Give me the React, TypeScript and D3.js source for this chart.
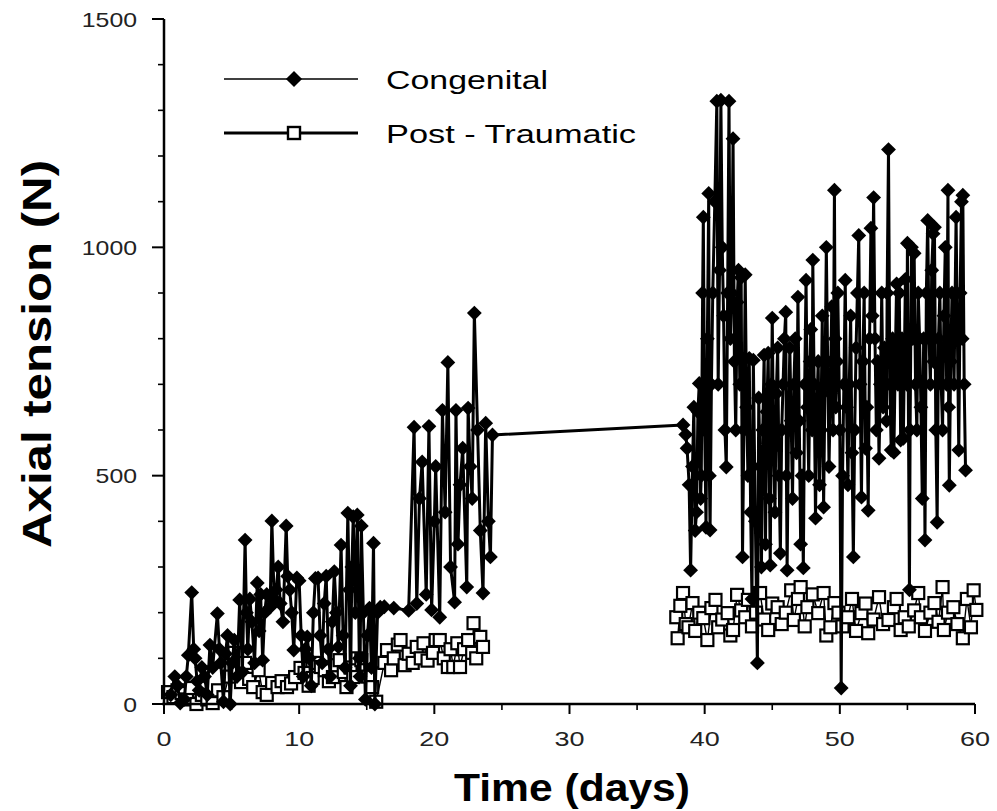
import React from 'react'
import * as d3 from 'd3'

// time in days, axial tension in N
const congenitalDays = [
  0.5, 0.8, 1.0, 1.2, 1.5, 1.65, 1.8, 2.05, 2.2, 2.3, 2.45, 2.6, 2.8, 3.0, 3.2, 3.4, 3.6, 3.95, 4.1, 4.2, 4.4,
  4.55, 4.7, 4.9, 5.05, 5.2, 5.4, 5.6, 5.8, 6.0, 6.1, 6.2, 6.35, 6.5, 6.7, 6.9, 7.04, 7.15, 7.3, 7.45, 7.6,
  7.85, 7.98, 8.15, 8.3, 8.45, 8.6, 8.8, 9.04, 9.15, 9.3, 9.45, 9.6, 9.83, 10.0, 10.15, 10.3, 10.45, 10.6,
  10.75, 10.9, 11.05, 11.2, 11.4, 11.55, 11.7, 11.85, 12.0, 12.15, 12.3, 12.45, 12.6, 12.75, 12.9, 13.1, 13.25,
  13.4, 13.6, 13.7, 13.8, 13.9, 14.0, 14.15, 14.3, 14.45, 14.5, 14.6, 14.75, 14.9, 15.05, 15.2, 15.35, 15.5,
  15.6, 15.8, 16.0, 16.3,
  17.0, 18.1, 18.5, 18.7, 18.9, 19.1, 19.4, 19.6, 19.8, 20.0, 20.1, 20.4, 20.6, 20.8, 21.0, 21.2, 21.5, 21.6,
  21.75, 21.9, 22.1, 22.4, 22.5, 22.65, 22.8, 22.96, 23.2, 23.4, 23.6, 23.8, 24.0, 24.15, 24.3,
  38.4, 38.6, 38.7, 38.85, 38.96, 39.1, 39.2, 39.3, 39.4, 39.5, 39.6, 39.7, 39.75, 39.85, 39.9, 40.0, 40.1,
  40.2, 40.3, 40.35, 40.4, 40.5, 40.6, 40.75, 40.9, 41.0, 41.1, 41.2, 41.3, 41.4, 41.5, 41.6, 41.7, 41.8,
  41.9, 42.0, 42.1, 42.2, 42.3, 42.4, 42.5, 42.6, 42.7, 42.8, 42.9, 43.0, 43.1, 43.2, 43.3, 43.4, 43.5,
  43.6, 43.75, 43.9, 44.0, 44.1, 44.2, 44.3, 44.4, 44.5, 44.6, 44.7, 44.8, 44.85, 44.95, 45.0, 45.1, 45.2,
  45.3, 45.4, 45.5, 45.6, 45.7, 45.8, 45.9, 46.0, 46.05, 46.1, 46.2, 46.3, 46.4, 46.5, 46.6, 46.7, 46.8,
  46.9, 47.0, 47.1, 47.2, 47.3, 47.4, 47.5, 47.6, 47.7, 47.8, 47.85, 47.95, 48.0, 48.1, 48.2, 48.3, 48.4,
  48.5, 48.6, 48.7, 48.8, 48.9, 49.0, 49.1, 49.2, 49.3, 49.4, 49.5, 49.6, 49.65, 49.7, 49.8, 49.85, 50.0,
  50.1, 50.2, 50.3, 50.4, 50.5, 50.6, 50.7, 50.8, 50.9, 51.0, 51.1, 51.2, 51.3, 51.4, 51.5, 51.6, 51.7,
  51.8, 51.9, 52.0, 52.1, 52.2, 52.3, 52.4, 52.5, 52.6, 52.7, 52.8, 52.9, 53.0, 53.1, 53.2, 53.3, 53.45,
  53.5, 53.6, 53.7, 53.8, 53.9, 54.0, 54.1, 54.2, 54.3, 54.4, 54.5, 54.6, 54.7, 54.85, 54.95, 55.0, 55.15,
  55.2, 55.3, 55.4, 55.5, 55.6, 55.7, 55.8, 55.9, 56.0, 56.1, 56.2, 56.3, 56.4, 56.5, 56.6, 56.7, 56.8,
  56.9, 56.95, 57.0, 57.1, 57.2, 57.3, 57.4, 57.5, 57.6, 57.7, 57.8, 57.9, 58.0, 58.05, 58.1, 58.2, 58.3,
  58.45, 58.6, 58.7, 58.8, 58.9, 59.0, 59.05, 59.1, 59.2, 59.3,
]
const congenitalTension = [
  20, 60, 40, 2, 10, 60, 107, 244, 120, 100, 50, 30, 80, 60, 20, 129, 80, 198, 120, 90, 5,
  110, 150, 0, 90, 140, 60, 228, 70, 359, 200, 120, 230, 180, 90, 265, 160, 240, 96, 200, 240,
  212, 401, 230, 250, 300, 220, 180, 390, 280, 250, 200, 118, 276, 270, 150, 60, 120, 147,
  100, 40, 200, 275, 276, 150, 90, 220, 280, 120, 60, 180, 290, 200, 125, 348, 150,
  80, 418, 250, 40, 300, 410, 200, 414, 100, 60, 390, 200, 10, 150, 210, 80, 352,
  0, 200, 212, 213,
  210, 205, 606, 220, 450, 530, 240, 608, 206, 400, 520, 190, 643, 420, 748, 300, 223, 643,
  350, 480, 560, 256, 648, 520, 450, 856, 600, 380, 243, 615, 400, 322, 589,
  611, 590, 560, 480, 293, 520, 650, 380, 420, 640, 702, 450, 500, 900, 1066, 600, 387,
  800, 1118, 500, 381, 700, 900, 1100, 1320, 700, 950, 1322, 1000, 850, 600, 519, 900, 1320,
  800, 900, 1238, 750, 600, 880, 950, 700, 934, 322, 600, 940, 650, 500, 757, 420, 230,
  753, 400, 90, 670, 520, 300, 600, 764, 350, 640, 768, 450, 304, 700, 845, 560, 420,
  680, 780, 500, 330, 600, 700, 800, 858, 500, 293, 600, 780, 620, 450, 700, 800, 550,
  891, 620, 350, 500, 298, 700, 928, 650, 500, 750, 820, 600, 972, 700, 407, 650, 750,
  480, 600, 850, 431, 700, 1000, 750, 520, 680, 870, 600, 1125, 800, 650, 750, 900, 600,
  35, 500, 700, 928, 650, 480, 700, 850, 550, 322, 600, 780, 900, 1026, 700, 453, 750,
  900, 560, 650, 424, 800, 1042, 850, 1109, 800, 600, 750, 538, 700, 900, 650, 780, 620,
  900, 1214, 700, 556, 800, 551, 750, 920, 700, 900, 578, 800, 582, 930, 700, 1009, 250,
  600, 1000, 800, 987, 700, 600, 900, 800, 650, 450, 800, 359, 900, 1059, 800, 700, 950,
  1030, 750, 1044, 600, 398, 800, 900, 700, 600, 850, 1000, 700, 1125, 650, 479, 750, 900,
  700, 1066, 800, 556, 900, 1100, 800, 1114, 700, 512,
]

const postTraumaticDays = [
  0.3, 0.7, 1.0, 1.3, 1.7, 2.0, 2.4, 2.8, 3.2, 3.6, 4.0, 4.4, 4.8, 5.1, 5.4, 5.7, 6.0, 6.3, 6.6, 7.0,
  7.3, 7.6, 8.0, 8.4, 8.7, 9.1, 9.4, 9.7, 10.1, 10.4, 10.7, 11.0, 11.3, 11.6, 11.9, 12.2, 12.5, 12.8, 13.0, 13.3,
  13.5, 13.8, 14.0, 14.3, 14.6, 14.8, 15.1, 15.4, 15.7,
  16.3, 16.5, 16.8, 17.0, 17.3, 17.5, 17.8, 18.1, 18.4, 18.7, 19.0, 19.2, 19.5, 19.9, 20.1, 20.4, 20.7, 21.0,
  21.2, 21.4, 21.7, 21.9, 22.2, 22.5, 22.8, 22.9, 23.1, 23.4, 23.6,
  37.9, 38.0, 38.2, 38.4, 38.6, 38.8, 39.1, 39.3, 39.6, 39.9, 40.2, 40.5, 40.8, 41.0, 41.3, 41.7, 41.9, 42.1,
  42.4, 42.7, 43.0, 43.2, 43.5, 43.8, 44.1, 44.4, 44.7, 45.0, 45.4, 45.7, 46.0, 46.4, 46.6, 46.9, 47.1, 47.4,
  47.6, 48.0, 48.4, 48.8, 49.0, 49.3, 49.6, 49.9, 50.2, 50.6, 50.9, 51.2, 51.6, 51.9, 52.1, 52.5, 52.9, 53.2,
  53.6, 54.0, 54.2, 54.5, 54.8, 55.1, 55.5, 55.8, 56.0, 56.3, 56.7, 57.0, 57.3, 57.6, 57.7, 58.0, 58.4, 58.7,
  59.1, 59.4, 59.7, 59.9, 60.1,
]
const postTraumaticTension = [
  26, 15, 30, 24, 10, 35, 0, 20, 10, 2, 30, 15, 60, 112, 74, 48, 90, 55, 37, 74,
  26, 20, 46, 37, 50, 37, 45, 59, 79, 68, 40, 57, 90, 81, 74, 50, 59, 85, 96, 70,
  37, 80, 59, 100, 96, 74, 60, 37, 5,
  90, 118, 74, 100, 130, 140, 85, 110, 90, 125, 100, 133, 95, 112, 140, 140, 100, 81,
  120, 81, 133, 81, 120, 140, 112, 177, 100, 147, 125,
  190, 144, 215, 243, 175, 168, 221, 160, 200, 188, 140, 210, 228, 168, 185, 199, 150, 162,
  239, 205, 190, 228, 170, 200, 243, 185, 162, 220, 212, 175, 200, 249, 184, 230, 256, 170,
  212, 240, 199, 243, 150, 168, 221, 200, 170, 190, 230, 160, 199, 220, 155, 185, 234, 175,
  184, 212, 230, 162, 190, 170, 205, 243, 190, 160, 200, 221, 180, 256, 162, 200, 212, 175,
  144, 230, 168, 249, 206,
]

const xTicks = [0, 10, 20, 30, 40, 50, 60]
const xMinorTicks = [5, 15, 25, 35, 45, 55]
const yTicks = [0, 500, 1000, 1500]
const yMinorTicks = [100, 200, 300, 400, 600, 700, 800, 900, 1100, 1200, 1300, 1400]

const App = () => {
  const width = 997
  const height = 811
  const font = '"Liberation Sans", Arial, Helvetica, sans-serif'

  const x = d3.scaleLinear().domain([0, 60]).range([164, 975])
  const y = d3.scaleLinear().domain([0, 1500]).range([704, 19])

  const congenital = congenitalDays.map((d, i) => [d, congenitalTension[i]])
  const postTraumatic = postTraumaticDays.map((d, i) => [d, postTraumaticTension[i]])

  const line = d3.line().x((d) => x(d[0])).y((d) => y(d[1]))
  // the post-traumatic record has gaps between the three stays
  const ptLine = d3.line()
    .defined((d, i, arr) => i === 0 || d[0] - arr[i - 1][0] < 5)
    .x((d) => x(d[0])).y((d) => y(d[1]))

  const diamond = d3.symbol(d3.symbolSquare, 110)()
  const legendDiamond = d3.symbol(d3.symbolSquare, 130)()

  return (
    <svg width={width} height={height} style={{ position: 'absolute', left: 0, top: 0, background: '#fff' }}>
      {/* post-traumatic under, congenital on top */}
      <path d={ptLine(postTraumatic)} fill="none" stroke="#000" strokeWidth={1.4} />
      {postTraumatic.map((d, i) => (
        <rect key={'p' + i} x={x(d[0]) - 6} y={y(d[1]) - 6} width={12} height={12}
          fill="#fff" stroke="#000" strokeWidth={2.2} />
      ))}
      <path d={line(congenital)} fill="none" stroke="#000" strokeWidth={3} strokeLinejoin="round" />
      {congenital.map((d, i) => (
        <path key={'c' + i} d={diamond} transform={`translate(${x(d[0])},${y(d[1])}) rotate(45)`} fill="#000" />
      ))}

      {/* axes */}
      <line x1={x(0)} x2={x(0)} y1={y(0)} y2={y(1500)} stroke="#000" strokeWidth={2.5} />
      <line x1={x(0) - 2} x2={x(60)} y1={y(0)} y2={y(0)} stroke="#000" strokeWidth={2.5} />
      {yTicks.map((t) => (
        <g key={'yt' + t}>
          <line x1={x(0) - 12} x2={x(0)} y1={y(t)} y2={y(t)} stroke="#000" strokeWidth={2} />
          <text x={137} y={y(t) + 7.5} textAnchor="end" fontFamily={font} fontSize={21} fill="#222"
            textLength={String(t).length * 13.8} lengthAdjust="spacingAndGlyphs">{t}</text>
        </g>
      ))}
      {yMinorTicks.map((t) => (
        <line key={'ym' + t} x1={x(0) - 6} x2={x(0)} y1={y(t)} y2={y(t)} stroke="#000" strokeWidth={1.6} />
      ))}
      {xTicks.map((t) => (
        <g key={'xt' + t}>
          <line x1={x(t)} x2={x(t)} y1={y(0)} y2={y(0) + 10} stroke="#000" strokeWidth={2} />
          <text x={x(t)} y={746} textAnchor="middle" fontFamily={font} fontSize={21} fill="#222"
            textLength={String(t).length * 15} lengthAdjust="spacingAndGlyphs">{t}</text>
        </g>
      ))}
      {xMinorTicks.map((t) => (
        <line key={'xm' + t} x1={x(t)} x2={x(t)} y1={y(0)} y2={y(0) + 6} stroke="#000" strokeWidth={1.6} />
      ))}

      {/* axis titles */}
      <text transform="translate(51,354) rotate(-90)" textAnchor="middle" fontFamily={font}
        fontWeight="bold" fontSize={41} textLength={388} lengthAdjust="spacingAndGlyphs">Axial tension (N)</text>
      <text x={572} y={801} textAnchor="middle" fontFamily={font} fontWeight="bold" fontSize={38}
        textLength={236} lengthAdjust="spacingAndGlyphs">Time (days)</text>

      {/* legend */}
      <line x1={224} x2={358} y1={79} y2={79} stroke="#000" strokeWidth={1.4} />
      <path d={legendDiamond} transform="translate(294,79) rotate(45)" fill="#000" />
      <text x={386} y={89} fontFamily={font} fontSize={26} textLength={162} lengthAdjust="spacingAndGlyphs">Congenital</text>
      <line x1={224} x2={358} y1={133} y2={133} stroke="#000" strokeWidth={3} />
      <rect x={288} y={127} width={12} height={12} fill="#fff" stroke="#000" strokeWidth={2.4} />
      <text x={386} y={143} fontFamily={font} fontSize={26} textLength={250} lengthAdjust="spacingAndGlyphs">Post - Traumatic</text>
    </svg>
  )
}

export default App
